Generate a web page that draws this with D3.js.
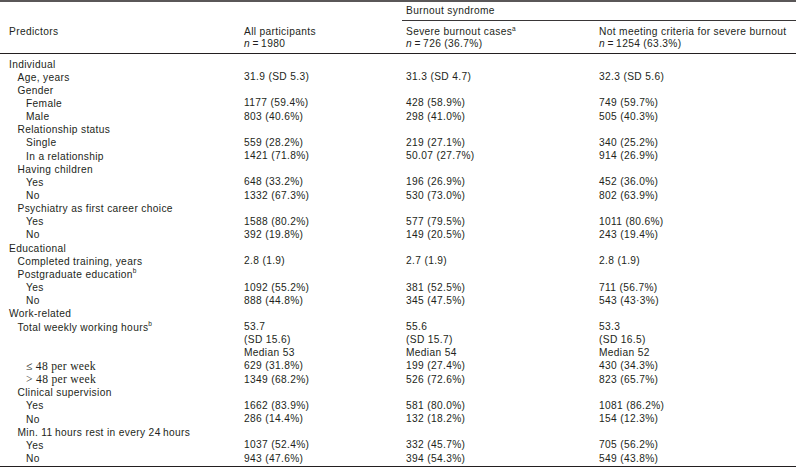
<!DOCTYPE html>
<html>
<head>
<meta charset="utf-8">
<script src="https://cdn.jsdelivr.net/npm/d3@7"></script>
<style>
  html, body { margin: 0; padding: 0; background: #fff; }
  svg text { font-family: "Liberation Sans", Arial, sans-serif; font-size: 10.2px; letter-spacing: 0.35px; fill: #231f20; }
  svg text.serif { font-family: "Liberation Serif", "Times New Roman", serif; font-size: 11.6px; letter-spacing: 0.3px; }
</style>
</head>
<body>
<svg id="chart" width="796" height="468"></svg>
<script>
(() => {
  'use strict';

  // ── Data ──
  const groupHeader = 'Burnout syndrome';
  const colHeads = ['All participants', 'Severe burnout cases', 'Not meeting criteria for severe burnout'];
  const colSup   = ['', 'a', ''];
  const colN     = ['1980', '726 (36.7%)', '1254 (63.3%)'];

  const rowLabels = [
    'Individual', 'Age, years', 'Gender', 'Female', 'Male',
    'Relationship status', 'Single', 'In a relationship',
    'Having children', 'Yes', 'No',
    'Psychiatry as first career choice', 'Yes', 'No',
    'Educational', 'Completed training, years', 'Postgraduate education', 'Yes', 'No',
    'Work-related', 'Total weekly working hours', '', '',
    '\u2264 48 per week', '> 48 per week',
    'Clinical supervision', 'Yes', 'No',
    'Min. 11\u2009hours rest in every 24\u2009hours', 'Yes', 'No'
  ];
  const rowIndent = [0, 1, 1, 2, 2, 1, 2, 2, 1, 2, 2, 1, 2, 2, 0, 1, 1, 2, 2, 0, 1, 1, 1, 2, 2, 1, 2, 2, 1, 2, 2];
  const rowSup = { 16: 'b', 20: 'b' };
  const serifRows = [23, 24];

  const allValues = [
    '', '31.9 (SD 5.3)', '', '1177 (59.4%)', '803 (40.6%)',
    '', '559 (28.2%)', '1421 (71.8%)',
    '', '648 (33.2%)', '1332 (67.3%)',
    '', '1588 (80.2%)', '392 (19.8%)',
    '', '2.8 (1.9)', '', '1092 (55.2%)', '888 (44.8%)',
    '', '53.7', '(SD 15.6)', 'Median 53',
    '629 (31.8%)', '1349 (68.2%)',
    '', '1662 (83.9%)', '286 (14.4%)',
    '', '1037 (52.4%)', '943 (47.6%)'
  ];
  const severeValues = [
    '', '31.3 (SD 4.7)', '', '428 (58.9%)', '298 (41.0%)',
    '', '219 (27.1%)', '50.07 (27.7%)',
    '', '196 (26.9%)', '530 (73.0%)',
    '', '577 (79.5%)', '149 (20.5%)',
    '', '2.7 (1.9)', '', '381 (52.5%)', '345 (47.5%)',
    '', '55.6', '(SD 15.7)', 'Median 54',
    '199 (27.4%)', '526 (72.6%)',
    '', '581 (80.0%)', '132 (18.2%)',
    '', '332 (45.7%)', '394 (54.3%)'
  ];
  const notValues = [
    '', '32.3 (SD 5.6)', '', '749 (59.7%)', '505 (40.3%)',
    '', '340 (25.2%)', '914 (26.9%)',
    '', '452 (36.0%)', '802 (63.9%)',
    '', '1011 (80.6%)', '243 (19.4%)',
    '', '2.8 (1.9)', '', '711 (56.7%)', '543 (43\u00b73%)',
    '', '53.3', '(SD 16.5)', 'Median 52',
    '430 (34.3%)', '823 (65.7%)',
    '', '1081 (86.2%)', '154 (12.3%)',
    '', '705 (56.2%)', '549 (43.8%)'
  ];

  // ── Layout ──
  const W = 796;
  const svg = d3.select('#chart');

  const y = d3.scaleLinear().domain([0, rowLabels.length - 1]).range([63.5, 458]);
  const colX = d3.scaleOrdinal().domain([0, 1, 2, 3]).range([9, 244, 406, 599]);
  const indent = d3.scaleLinear().domain([0, 2]).range([0, 17]);

  // Rules
  const rules = [
    { x1: 0, x2: W, y: 1, w: 1.4 },
    { x1: 402, x2: W, y: 20.5, w: 0.9 },
    { x1: 0, x2: W, y: 53.5, w: 1.1 },
    { x1: 0, x2: W, y: 466.5, w: 1.2 }
  ];
  svg.selectAll('line.rule')
    .data(rules)
    .join('line')
    .attr('class', 'rule')
    .attr('x1', d => d.x1).attr('x2', d => d.x2)
    .attr('y1', d => d.y).attr('y2', d => d.y)
    .attr('stroke', '#231f20').attr('stroke-width', d => d.w);

  // Header
  const head = svg.append('g').attr('dominant-baseline', 'central');
  head.append('text').attr('x', colX(2)).attr('y', 10.5).text(groupHeader);
  head.append('text').attr('x', colX(0)).attr('y', 31.5).text('Predictors');

  colHeads.forEach((h, i) => {
    const t = head.append('text').attr('x', colX(i + 1)).attr('y', 31.5).text(h);
    if (colSup[i]) {
      t.append('tspan').attr('font-size', '6.5px').attr('dy', -3.5).text(colSup[i]);
    }
    const n = head.append('text').attr('x', colX(i + 1)).attr('y', 43);
    n.append('tspan').attr('font-style', 'italic').text('n');
    n.append('tspan').text('\u2009=\u2009' + colN[i]);
  });

  // Body rows
  const body = svg.append('g').attr('dominant-baseline', 'central');

  body.selectAll('text.label')
    .data(rowLabels.map((l, i) => ({ l, i })).filter(d => d.l))
    .join('text')
    .attr('class', d => serifRows.includes(d.i) ? 'label serif' : 'label')
    .attr('x', d => colX(0) + indent(rowIndent[d.i]))
    .attr('y', d => y(d.i))
    .each(function (d) {
      const t = d3.select(this);
      t.append('tspan').text(d.l);
      if (rowSup[d.i]) {
        t.append('tspan').attr('font-size', '6.5px').attr('dy', -3.5).text(rowSup[d.i]);
      }
    });

  [allValues, severeValues, notValues].forEach((vals, c) => {
    body.selectAll(`text.v${c}`)
      .data(vals.map((v, i) => ({ v, i })).filter(d => d.v))
      .join('text')
      .attr('class', `v${c}`)
      .attr('x', colX(c + 1))
      .attr('y', d => y(d.i))
      .text(d => d.v);
  });
})();
</script>
</body>
</html>
